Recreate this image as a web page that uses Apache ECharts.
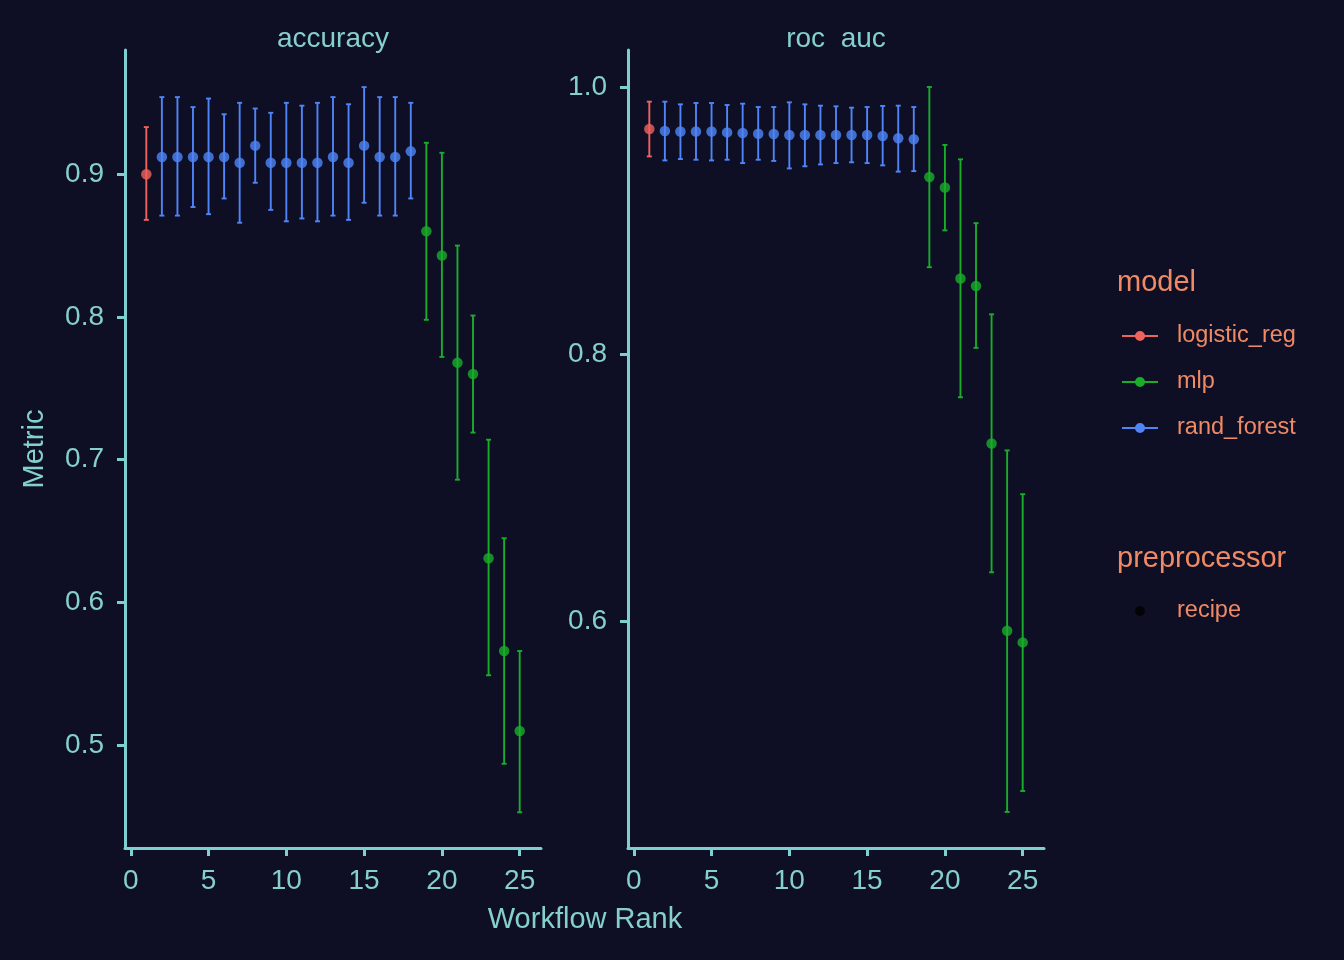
<!DOCTYPE html>
<html>
<head>
<meta charset="utf-8">
<script src="https://cdn.jsdelivr.net/npm/echarts@6/dist/echarts.min.js"></script>
<style>
  html, body { margin: 0; padding: 0; background: #0e0f25; }
  #chart { width: 1344px; height: 960px; }
</style>
</head>
<body>
<div id="chart"></div>
<script>
// workflow rank and the model of each workflow
const ranks = [1, 2, 3, 4, 5, 6, 7, 8, 9, 10, 11, 12, 13, 14, 15, 16, 17, 18, 19, 20, 21, 22, 23, 24, 25]
const models = ['logistic_reg', 'rand_forest', 'rand_forest', 'rand_forest', 'rand_forest', 'rand_forest', 'rand_forest', 'rand_forest', 'rand_forest', 'rand_forest', 'rand_forest', 'rand_forest', 'rand_forest', 'rand_forest', 'rand_forest', 'rand_forest', 'rand_forest', 'rand_forest', 'mlp', 'mlp', 'mlp', 'mlp', 'mlp', 'mlp', 'mlp']
const modelNames = ['logistic_reg', 'mlp', 'rand_forest']
const modelColors = ['#f0625c', '#1aad2a', '#4f85f7']

// accuracy panel
const accMean = [0.900, 0.912, 0.912, 0.912, 0.912, 0.912, 0.908, 0.920, 0.908, 0.908, 0.908, 0.908, 0.912, 0.908, 0.920, 0.912, 0.912, 0.916, 0.860, 0.843, 0.768, 0.760, 0.631, 0.566, 0.510]
const accLow = [0.868, 0.871, 0.871, 0.877, 0.872, 0.883, 0.866, 0.894, 0.875, 0.867, 0.869, 0.867, 0.871, 0.868, 0.880, 0.871, 0.871, 0.883, 0.798, 0.772, 0.686, 0.719, 0.549, 0.487, 0.453]
const accHigh = [0.933, 0.954, 0.954, 0.947, 0.953, 0.942, 0.950, 0.946, 0.943, 0.950, 0.948, 0.950, 0.954, 0.949, 0.961, 0.954, 0.954, 0.950, 0.922, 0.915, 0.850, 0.801, 0.714, 0.645, 0.566]

// roc_auc panel
const rocMean = [0.9685, 0.967, 0.9666, 0.9666, 0.9666, 0.966, 0.9655, 0.965, 0.9648, 0.964, 0.964, 0.964, 0.964, 0.964, 0.964, 0.9633, 0.9616, 0.9608, 0.9326, 0.9247, 0.8565, 0.851, 0.733, 0.5927, 0.584]
const rocLow = [0.948, 0.945, 0.946, 0.9455, 0.945, 0.9455, 0.943, 0.9455, 0.9446, 0.939, 0.9406, 0.942, 0.943, 0.9436, 0.943, 0.9413, 0.9366, 0.937, 0.865, 0.8926, 0.7676, 0.8046, 0.6365, 0.457, 0.4727]
const rocHigh = [0.989, 0.989, 0.987, 0.988, 0.988, 0.9865, 0.9875, 0.985, 0.985, 0.9885, 0.987, 0.986, 0.9855, 0.9845, 0.985, 0.9858, 0.986, 0.985, 1.0, 0.9566, 0.9458, 0.898, 0.8297, 0.7278, 0.695]

// tick labels
const xTicks = [0, 5, 10, 15, 20, 25]
const accTicks = [0.5, 0.6, 0.7, 0.8, 0.9]
const rocTicks = [0.6, 0.8, 1.0]

const bg = '#0e0f25'
const axisColor = '#80cfd0'
const textColor = '#85cfcf'
const legendText = '#f08a64'
const font = 'Liberation Sans, Arial, sans-serif'

const chart = echarts.init(document.getElementById('chart'))

// 误差线
function errorBar(params, api) {
  const x = api.value(0)
  const lo = api.coord([x, api.value(1)])
  const hi = api.coord([x, api.value(2)])
  const color = api.visual('color')
  const cap = 2.5
  const style = { stroke: color, lineWidth: 1.9 }
  return {
    type: 'group',
    children: [
      { type: 'line', shape: { x1: lo[0], y1: lo[1], x2: hi[0], y2: hi[1] }, style },
      { type: 'line', shape: { x1: lo[0] - cap, y1: lo[1], x2: lo[0] + cap, y2: lo[1] }, style },
      { type: 'line', shape: { x1: hi[0] - cap, y1: hi[1], x2: hi[0] + cap, y2: hi[1] }, style },
    ],
  }
}

const series = []
const panels = [
  { mean: accMean, low: accLow, high: accHigh },
  { mean: rocMean, low: rocLow, high: rocHigh },
]
panels.forEach((p, k) => {
  modelNames.forEach((m, i) => {
    const idx = ranks.map((r, j) => j).filter(j => models[j] === m)
    series.push({
      name: m,
      type: 'custom',
      xAxisIndex: k,
      yAxisIndex: k,
      color: modelColors[i],
      renderItem: errorBar,
      data: idx.map(j => [ranks[j], p.low[j], p.high[j]]),
      z: 2,
    })
    series.push({
      name: m,
      type: 'scatter',
      xAxisIndex: k,
      yAxisIndex: k,
      color: modelColors[i],
      symbolSize: 10.5,
      data: idx.map(j => [ranks[j], p.mean[j]]),
      z: 3,
    })
  })
})
series.push({ name: 'recipe', type: 'scatter', color: '#000000', data: [] })

// line with a dot, for the model legend
const lineDot = 'path://M0,6 L36,6 L36,8 L0,8 Z M13,7 A5,5 0 1,1 23,7 A5,5 0 1,1 13,7 Z'

const xAxisBase = {
  type: 'value',
  min: -0.37,
  max: 26.37,
  splitLine: { show: false },
  axisLine: { show: true, onZero: false, lineStyle: { color: axisColor, width: 3 } },
  axisTick: { show: true, customValues: xTicks, length: 8, lineStyle: { color: axisColor, width: 3 } },
  axisLabel: { customValues: xTicks, color: textColor, fontSize: 28, fontFamily: font, margin: 19 },
}
const yAxisBase = {
  type: 'value',
  splitLine: { show: false },
  axisLine: { show: true, onZero: false, lineStyle: { color: axisColor, width: 3 } },
  axisTick: { show: true, length: 8, lineStyle: { color: axisColor, width: 3 } },
  axisLabel: { color: textColor, fontSize: 28, fontFamily: font, margin: 21, formatter: v => v.toFixed(1) },
}

const option = {
  backgroundColor: bg,
  animation: false,
  grid: [
    { left: 125, top: 50, width: 416, height: 798 },
    { left: 628, top: 50, width: 416, height: 798 },
  ],
  xAxis: [
    Object.assign({ gridIndex: 0 }, xAxisBase),
    Object.assign({ gridIndex: 1 }, xAxisBase),
  ],
  yAxis: [
    Object.assign({}, yAxisBase, {
      gridIndex: 0, min: 0.428, max: 0.987,
      axisTick: Object.assign({}, yAxisBase.axisTick, { customValues: accTicks }),
      axisLabel: Object.assign({}, yAxisBase.axisLabel, { customValues: accTicks }),
    }),
    Object.assign({}, yAxisBase, {
      gridIndex: 1, min: 0.43, max: 1.0277,
      axisTick: Object.assign({}, yAxisBase.axisTick, { customValues: rocTicks }),
      axisLabel: Object.assign({}, yAxisBase.axisLabel, { customValues: rocTicks }),
    }),
  ],
  legend: [
    {
      data: modelNames,
      orient: 'vertical',
      left: 1122,
      top: 324,
      padding: 0,
      icon: lineDot,
      itemWidth: 36,
      itemHeight: 14,
      itemGap: 22,
      selectedMode: false,
      textStyle: { color: legendText, fontSize: 23.5, fontFamily: font, padding: [0, 0, 0, 14] },
    },
    {
      data: ['recipe'],
      orient: 'vertical',
      left: 1135,
      top: 599,
      padding: 0,
      icon: 'circle',
      itemWidth: 10,
      itemHeight: 10,
      selectedMode: false,
      textStyle: { color: legendText, fontSize: 23.5, fontFamily: font, padding: [0, 0, 0, 27] },
    },
  ],
  graphic: [
    { type: 'text', x: 333, y: 39, style: { text: 'accuracy', fill: textColor, font: '28px ' + font, textAlign: 'center', textVerticalAlign: 'middle' } },
    { type: 'text', x: 836, y: 39, style: { text: 'roc  auc', fill: textColor, font: '28px ' + font, textAlign: 'center', textVerticalAlign: 'middle' } },
    { type: 'text', x: 585, y: 920, style: { text: 'Workflow Rank', fill: textColor, font: '29px ' + font, textAlign: 'center', textVerticalAlign: 'middle' } },
    { type: 'text', x: 35, y: 449, rotation: Math.PI / 2, style: { text: 'Metric', fill: textColor, font: '29px ' + font, textAlign: 'center', textVerticalAlign: 'middle' } },
    { type: 'text', x: 1117, y: 283, style: { text: 'model', fill: legendText, font: '29px ' + font, textVerticalAlign: 'middle' } },
    { type: 'text', x: 1117, y: 559, style: { text: 'preprocessor', fill: legendText, font: '29px ' + font, textVerticalAlign: 'middle' } },
  ],
  series: series,
}
chart.setOption(option)
</script>
</body>
</html>
